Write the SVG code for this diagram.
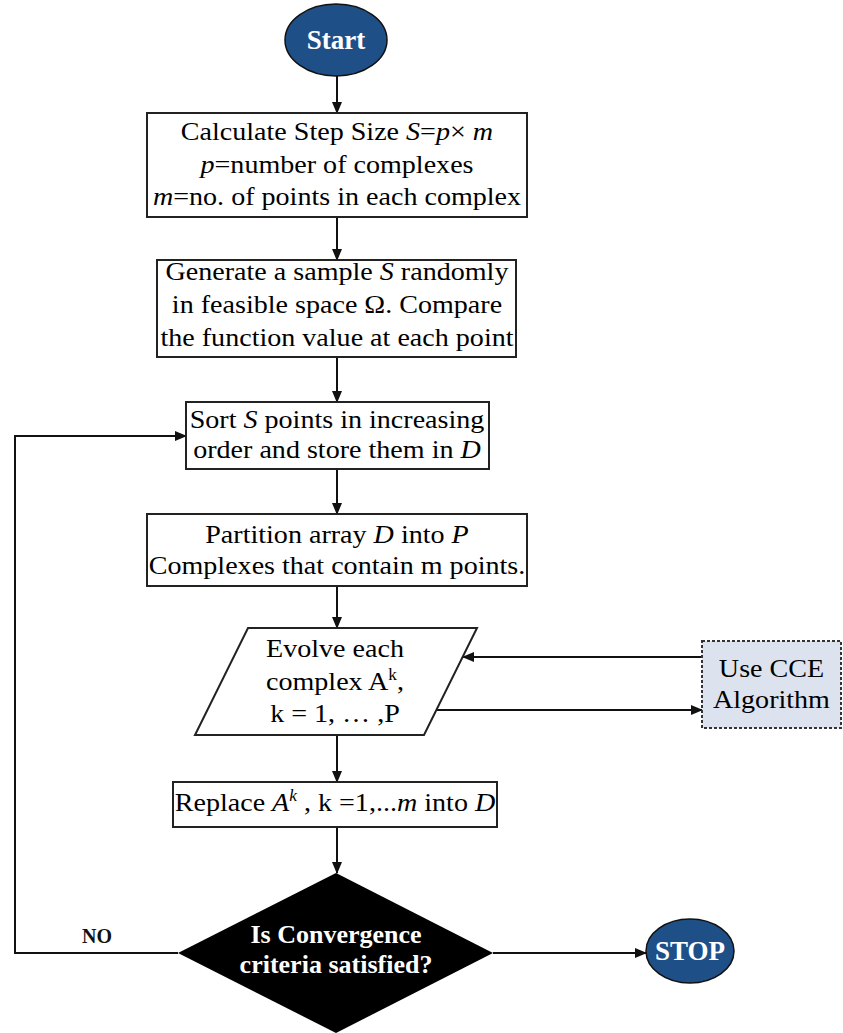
<svg xmlns="http://www.w3.org/2000/svg" width="843" height="1033" viewBox="0 0 843 1033">
<style>
.t{font-family:"Liberation Serif","Times New Roman",serif;font-size:26px;fill:#000;text-anchor:middle}
.b{font-family:"Liberation Serif","Times New Roman",serif;font-weight:bold;fill:#fff;text-anchor:middle}
.box{fill:#fff;stroke:#222;stroke-width:2}
.term{fill:#1f4f87;stroke:#111;stroke-width:1.5}
.ln{fill:none;stroke:#111;stroke-width:2}
.i{font-style:italic}
</style>
<defs>
<marker id="ah" markerWidth="12" markerHeight="10" refX="11" refY="5" orient="auto" markerUnits="userSpaceOnUse">
<path d="M0,0 L12,5 L0,10 Z" fill="#111"/>
</marker>
</defs>
<rect width="843" height="1033" fill="#fff"/>

<g id="connectors">
<line class="ln" x1="337" y1="76" x2="337" y2="113" marker-end="url(#ah)"/>
<line class="ln" x1="337" y1="217" x2="337" y2="260" marker-end="url(#ah)"/>
<line class="ln" x1="337" y1="357" x2="337" y2="402" marker-end="url(#ah)"/>
<line class="ln" x1="337" y1="469" x2="337" y2="514" marker-end="url(#ah)"/>
<line class="ln" x1="337" y1="586" x2="337" y2="628" marker-end="url(#ah)"/>
<line class="ln" x1="337" y1="735" x2="337" y2="782" marker-end="url(#ah)"/>
<line class="ln" x1="337" y1="827" x2="337" y2="873" marker-end="url(#ah)"/>
<line class="ln" x1="702" y1="657" x2="463" y2="657" marker-end="url(#ah)"/>
<line class="ln" x1="436" y1="710" x2="702" y2="710" marker-end="url(#ah)"/>
<line class="ln" x1="493" y1="953" x2="646" y2="953" marker-end="url(#ah)"/>
<polyline class="ln" points="178,953 15,953 15,436 186,436" marker-end="url(#ah)"/>
<text x="97" y="943" style="font-family:'Liberation Serif','Times New Roman',serif;font-weight:bold;font-size:20px;fill:#111;text-anchor:middle">NO</text>
</g>

<g id="start">
<ellipse class="term" cx="336" cy="40" rx="51" ry="36"/>
<text class="b" x="336" y="49" font-size="27">Start</text>
</g>

<g id="step">
<rect class="box" x="147" y="113" width="380" height="104"/>
<g transform="matrix(1.08 0 0 1 -26.96 0)">
<text class="t" x="337" y="140">Calculate Step Size <tspan class="i">S</tspan>=<tspan class="i">p</tspan>× <tspan class="i">m</tspan></text>
<text class="t" x="337" y="173"><tspan class="i">p</tspan>=number of complexes</text>
<text class="t" x="337" y="205"><tspan class="i">m</tspan>=no. of points in each complex</text>
</g>
</g>

<g id="generate">
<rect class="box" x="157" y="260" width="359" height="97"/>
<g transform="matrix(1.08 0 0 1 -26.96 0)">
<text class="t" x="337" y="280">Generate a sample <tspan class="i">S</tspan> randomly</text>
<text class="t" x="337" y="313">in feasible space Ω. Compare</text>
<text class="t" x="337" y="346">the function value at each point</text>
</g>
</g>

<g id="sort">
<rect class="box" x="186" y="402" width="303" height="67"/>
<g transform="matrix(1.08 0 0 1 -26.96 0)">
<text class="t" x="337" y="428">Sort <tspan class="i">S</tspan> points in increasing</text>
<text class="t" x="337" y="458">order and store them in <tspan class="i">D</tspan></text>
</g>
</g>

<g id="partition">
<rect class="box" x="147" y="514" width="380" height="72"/>
<g transform="matrix(1.08 0 0 1 -26.96 0)">
<text class="t" x="337" y="543">Partition array <tspan class="i">D</tspan> into <tspan class="i">P</tspan></text>
<text class="t" x="337" y="574">Complexes that contain m points.</text>
</g>
</g>

<g id="evolve">
<polygon class="box" points="248,628 477,628 424,735 195,735"/>
<g transform="matrix(1.08 0 0 1 -26.8 0)">
<text class="t" x="335" y="657">Evolve each</text>
<text class="t" x="335" y="690">complex A<tspan font-size="16" dy="-10">k</tspan><tspan dy="10">,</tspan></text>
<text class="t" x="335" y="722">k = 1, … ,P</text>
</g>
</g>

<g id="cce">
<rect x="702" y="641" width="139" height="87" fill="#dde3ee" stroke="#333" stroke-width="2" stroke-dasharray="3,2"/>
<g transform="matrix(1.08 0 0 1 -61.72 0)">
<text class="t" x="771.5" y="677">Use CCE</text>
<text class="t" x="771.5" y="708">Algorithm</text>
</g>
</g>

<g id="replace">
<rect class="box" x="173" y="782" width="324" height="45"/>
<g transform="matrix(1.08 0 0 1 -26.8 0)">
<text class="t" x="335" y="811">Replace <tspan class="i">A</tspan><tspan class="i" font-size="16" dy="-10">k</tspan><tspan dy="10"> , k =1,...</tspan><tspan class="i">m</tspan> into <tspan class="i">D</tspan></text>
</g>
</g>

<g id="decision">
<polygon points="336,873 493,953 336,1033 178,953" fill="#000"/>
<text class="b" x="336" y="943" font-size="26">Is Convergence</text>
<text class="b" x="336" y="973" font-size="26">criteria satisfied?</text>
</g>

<g id="stop">
<ellipse class="term" cx="690" cy="951" rx="44" ry="32"/>
<text class="b" x="690" y="960" font-size="27">STOP</text>
</g>
</svg>
